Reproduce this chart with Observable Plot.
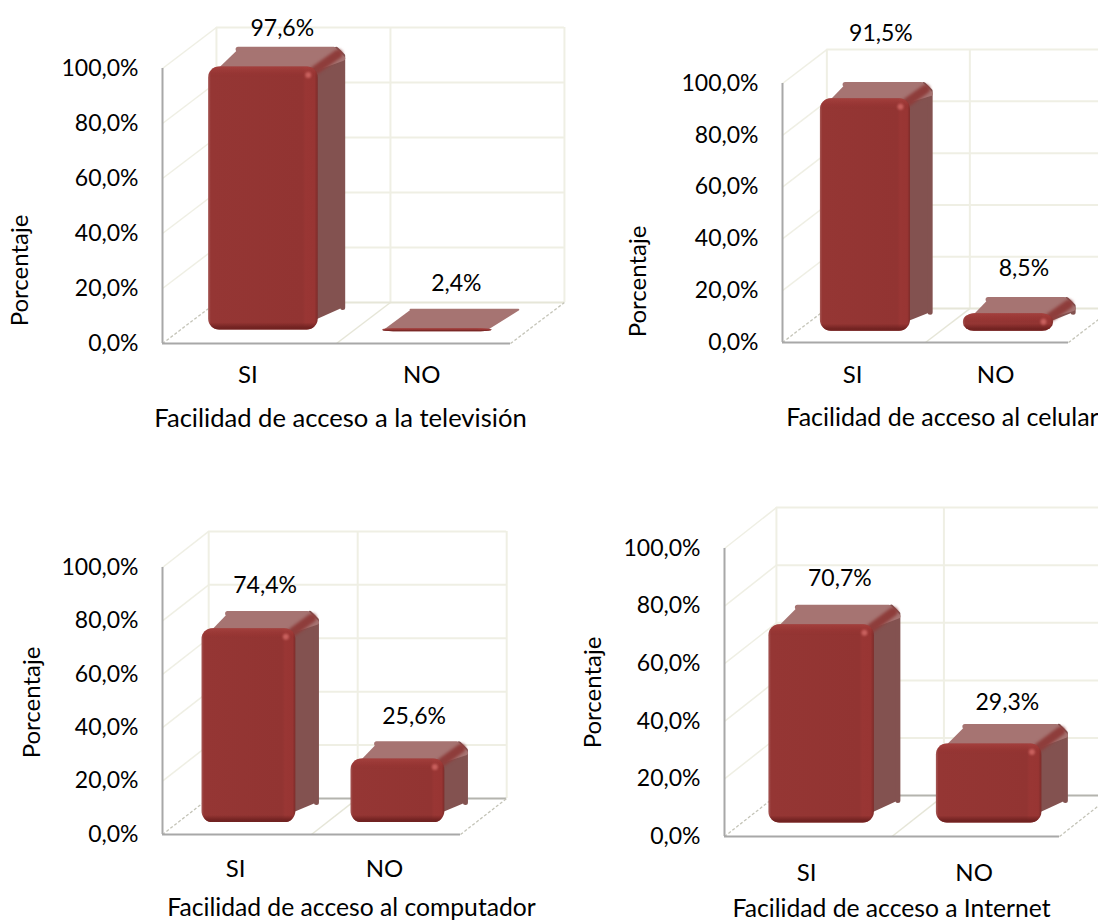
<!DOCTYPE html>
<html lang="es">
<head>
<meta charset="utf-8">
<title>Facilidad de acceso</title>
<script src="https://cdn.jsdelivr.net/npm/d3@7"></script>
<script src="https://cdn.jsdelivr.net/npm/@observablehq/plot@0.6"></script>
<style>
  html, body { margin: 0; background: #fff; }
  #page { position: relative; width: 1098px; height: 921px; overflow: hidden; }
  #page svg { position: absolute; background: transparent; }
</style>
</head>
<body>
<div id="page"></div>
<script>
// Survey answers, in percent
const categories = ["SI", "NO"];
const television = [97.6, 2.4];
const celular = [91.5, 8.5];
const computador = [74.4, 25.6];
const internet = [70.7, 29.3];
const yTicks = [0, 20, 40, 60, 80, 100];

const titleTelevision = "Facilidad de acceso a la televisión";
const titleCelular = "Facilidad de acceso al celular";
const titleComputador = "Facilidad de acceso al computador";
const titleInternet = "Facilidad de acceso a Internet";
const yTitle = "Porcentaje";

// Where each small chart sits on the page and how deep its box is drawn
const panels = [
  {values: television, title: titleTelevision, box: [0, 0, 600, 460], axisX: [162, 510], axisY: [343, 68],
   wallRise: 14.9, labelDy: [-46, -53], titleAt: [340, 418], titleSize: 25.6, yTitleAt: [20, 270], floorStroke: "#e6e6d8", catPad: 22.4},
  {values: celular, title: titleCelular, box: [600, 0, 498, 460], axisX: [782, 1068], axisY: [342, 83],
   wallRise: 13.1, labelDy: [-72, -52], titleAt: [942, 417], titleSize: 25, yTitleAt: [638, 281], floorStroke: "#e6e6d8", catPad: 23.4},
  {values: computador, title: titleComputador, box: [0, 460, 550, 461], axisX: [162, 460], axisY: [834, 567],
   wallRise: 13.5, labelDy: [-50, -50], titleAt: [351, 908], titleSize: 24.7, yTitleAt: [32, 702], floorStroke: "#b4b4ae", catPad: 25.4},
  {values: internet, title: titleInternet, box: [550, 460, 548, 461], axisX: [724, 1059], axisY: [836, 548],
   wallRise: 14.2, labelDy: [-54, -49], titleAt: [891, 909], titleSize: 24.7, yTitleAt: [593, 692], floorStroke: "#b4b4ae", catPad: 27.4}
];

const fontFamily = "Lato, 'Open Sans', sans-serif";
const gridColor = "#efefe4";
const axisColor = "#a8a8a8";
const percent = (v) => v.toFixed(1).replace(".", ",") + "%";

function drawPanel(p, panelIndex) {
  const [left, top, width, height] = p.box;
  const step = (p.axisX[1] - p.axisX[0]) / 2;
  const ppu = (p.axisY[0] - p.axisY[1]) / 100;
  const wallX = 0.31, wallY = p.wallRise;
  const depthX = 0.155, depthY = wallY * 0.49;
  const lift = wallY * 0.2, foot = wallY * 0.33;
  const centre = 0.58, half = 0.315;
  const X = (px) => px / step, Y = (px) => px / ppu;

  // Solid boxes, front face first, in chart units
  const bars = p.values.map((v, i) => {
    const t = v + lift;
    const b = Math.min(foot, t - 1.1);
    const px = (t - b) * ppu;
    return {
      i, v, id: `front-${panelIndex}-${i}`,
      x1: i + centre - half, x2: i + centre + half, y1: b, y2: t,
      px, r: px < 8 ? 1 : 2.5
    };
  });
  const solid = bars.filter((d) => d.px >= 8);
  const polygon = (d, pts) => pts.map(([x, y]) => ({x, y, z: d.i, w: d.r * 2}));
  // The far top corner is cut so that it reads as a rounded edge
  const sideFaces = solid.flatMap((d) => polygon(d, [
    [d.x2 - X(8), d.y1 + Y(8)], [d.x2 - X(6), d.y2 - Y(6)],
    [d.x2 + depthX - X(9), d.y2 + depthY - Y(d.r)], [d.x2 + depthX - X(d.r), d.y2 + depthY - Y(9)],
    [d.x2 + depthX - X(d.r), d.y1 + depthY + Y(d.r)]
  ]));
  const topFaces = bars.flatMap((d) => {
    const cut = d.px < 8 ? 0 : 9;
    const front = d.px < 8 ? 0 : 6;
    return polygon(d, [
      [d.x1 + X(front + d.r), d.y2 - Y(d.r)], [d.x2 - X(6), d.y2 - Y(d.r)],
      [d.x2 + depthX - X(d.r), d.y2 + depthY - Y(cut + d.r)], [d.x2 + depthX - X(cut + d.r), d.y2 + depthY - Y(d.r)],
      [d.x1 + depthX + X(d.r), d.y2 + depthY - Y(d.r)]
    ]);
  });
  const ridges = solid.flatMap((d) => polygon(d, [
    [d.x2 - X(4), d.y2 - Y(4)], [d.x2 + depthX - X(7), d.y2 + depthY - Y(7)]
  ]));

  const gradients = () => {
    const defs = d3.create("svg:defs");
    bars.forEach((d) => {
      const h = defs.append("linearGradient").attr("id", d.id + "-h");
      [[0, "#a65a58"], [0.025, "#953634"], [0.86, "#923432"], [0.89, "#993634"], [0.97, "#983533"], [1, "#7d2c2a"]]
        .forEach(([o, c]) => h.append("stop").attr("offset", o).attr("stop-color", c));
      const v = defs.append("linearGradient").attr("id", d.id + "-v")
        .attr("x1", 0).attr("x2", 0).attr("y1", 0).attr("y2", 1);
      const f = Math.min(0.5, 7 / d.px), g = Math.min(0.5, 7 / d.px);
      [[0, "#b24a47", 0.55], [f, "#9b3735", 0.35], [Math.min(0.5, 11 / d.px), "#943533", 0],
       [1 - g, "#6e2120", 0], [1 - g / 3, "#6e2120", 0.85], [1, "#6e2120", 0.95]]
        .forEach(([o, c, a]) => v.append("stop").attr("offset", o).attr("stop-color", c).attr("stop-opacity", a));
    });
    return defs.node();
  };

  const chart = Plot.plot({
    width, height,
    marginLeft: p.axisX[0] - left,
    marginRight: left + width - p.axisX[1],
    marginTop: p.axisY[1] - top,
    marginBottom: top + height - p.axisY[0],
    x: {type: "linear", domain: [0, 2]},
    y: {type: "linear", domain: [0, 100]},
    style: {fontFamily, fontSize: "23px", color: "#000", background: "transparent", overflow: "hidden"},
    marks: [
      gradients,
      // Back wall and side wall grid
      Plot.ruleY(yTicks.filter((t) => t > 0), {y: (t) => t + wallY, x1: wallX, x2: 2 + wallX, stroke: gridColor, strokeWidth: 2}),
      Plot.ruleX([0, 1, 2], {x: (t) => t + wallX, y1: wallY, y2: 100 + wallY, stroke: gridColor, strokeWidth: 2}),
      Plot.link(yTicks.filter((t) => t > 0), {x1: 0, y1: (t) => t, x2: wallX, y2: (t) => t + wallY, stroke: gridColor, strokeWidth: 1.5}),
      // Floor
      Plot.ruleY([wallY], {x1: wallX, x2: 2 + wallX, stroke: p.floorStroke, strokeWidth: 2}),
      Plot.link([1], {x1: (t) => t, y1: 0, x2: (t) => t + wallX, y2: wallY, stroke: "#e6e6d8", strokeWidth: 1.5}),
      Plot.link([0, 2], {x1: (t) => t, y1: 0, x2: (t) => t + wallX, y2: wallY, stroke: "#c4c4b8", strokeWidth: 1.3, strokeDasharray: "3 2"}),
      // Front axis lines
      Plot.ruleX([0], {y1: 0, y2: 100, stroke: axisColor, strokeWidth: 2}),
      Plot.ruleY([0], {x1: 0, x2: 2, stroke: axisColor, strokeWidth: 2}),
      // Box faces
      Plot.line(sideFaces, {x: "x", y: "y", z: "z", fill: "#835250", stroke: "#835250", strokeWidth: "w",
        strokeLinejoin: "round", imageFilter: "blur(0.6px)"}),
      Plot.line(topFaces, {x: "x", y: "y", z: "z", fill: "#a67472", stroke: "#a67472", strokeWidth: "w",
        strokeLinejoin: "round", imageFilter: "blur(0.6px)"}),
      Plot.line(ridges, {x: "x", y: "y", z: "z", stroke: "#8e3d3b", strokeWidth: 9, strokeLinecap: "round",
        imageFilter: "blur(1.5px)"}),
      Plot.rect(bars, {x1: "x1", x2: "x2", y1: "y1", y2: "y2", rx: 11, fill: (d) => `url(#${d.id}-h)`, imageFilter: "blur(0.5px)"}),
      Plot.rect(bars, {x1: "x1", x2: "x2", y1: "y1", y2: "y2", rx: 11, fill: (d) => `url(#${d.id}-v)`, imageFilter: "blur(0.5px)"}),
      Plot.dot(solid, {x: "x2", y: "y2", dx: -10, dy: 8, r: 3, fill: "#c8615e", imageFilter: "blur(1px)"}),
      // Value labels, one mark each since each has its own offset
      ...p.values.map((v, i) => Plot.text([v], {
        x: i + centre + depthX * 0.7, y: (d) => d,
        dy: p.labelDy[i], text: percent, fill: "#000"
      })),
      // Axes and titles
      Plot.axisY(yTicks, {tickSize: 0, tickPadding: 24, tickFormat: percent, label: null}),
      Plot.axisX(categories.map((c, i) => i + 0.49), {
        tickSize: 0, tickPadding: p.catPad, label: null, fontSize: 24,
        tickFormat: (d) => categories[Math.round(d - 0.49)]
      }),
      Plot.text([p.title], {
        x: (p.titleAt[0] - p.axisX[0]) / step, y: 0, fontSize: p.titleSize,
        dy: p.titleAt[1] - p.axisY[0], fill: "#000", text: (d) => d
      }),
      Plot.text([yTitle], {
        x: (p.yTitleAt[0] - p.axisX[0]) / step, y: (p.axisY[0] - p.yTitleAt[1]) / ppu, fontSize: 24,
        rotate: -90, fill: "#000", text: (d) => d
      })
    ]
  });
  chart.style.left = left + "px";
  chart.style.top = top + "px";
  document.getElementById("page").appendChild(chart);
}

panels.forEach(drawPanel);
</script>
</body>
</html>
